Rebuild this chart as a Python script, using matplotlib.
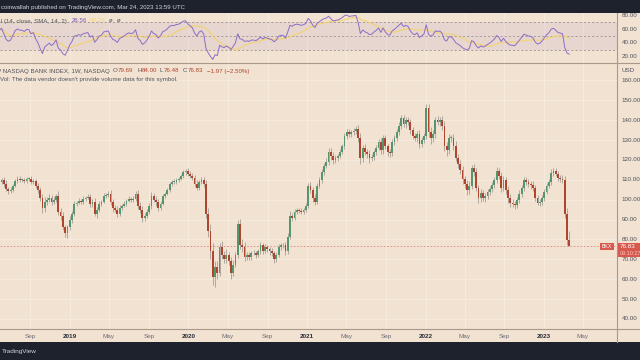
import matplotlib
matplotlib.use('Agg')
import matplotlib.pyplot as plt
import matplotlib.dates as mdates
from matplotlib.lines import Line2D
from matplotlib.patches import Rectangle
import numpy as np
import pandas as pd

# weekly closes of BKX (first bar = week of 2018-05-28)
close_2018 = [109, 110, 108, 105.5, 104.5, 105, 107, 109.5, 110.5, 110,
              110, 109.5, 110.5, 110.5, 109, 109.5, 107, 105, 101, 96,
              99, 100, 101, 99, 100, 102, 94, 92, 86, 83,
              86, 90]
close_2019 = [93, 98, 98.5, 99.5, 99, 100.5, 101, 101.5, 98, 99,
              93, 95, 98, 99, 102, 102.5, 103, 99, 96, 95,
              93, 96, 97, 98, 99.5, 100.5, 100, 100.5, 103, 97,
              95, 91, 92, 94, 97, 102, 100, 99, 96, 98,
              102, 103, 105, 108, 109, 109, 110, 110.5, 112, 114,
              114.5, 113]
close_2020 = [112, 111, 108, 106, 109, 110, 108, 93, 84, 74,
              61, 66, 63, 76, 72, 70, 72, 69, 63, 67,
              72, 88, 77, 76, 71, 72, 71, 73, 73, 72,
              74, 77, 74, 76, 75, 74, 73, 70, 72, 76,
              77, 77, 74, 81, 92, 91, 94, 95, 94.5, 94,
              95, 97]
close_2021 = [107, 105, 101, 99, 107, 110, 114, 117, 119, 124,
              122, 120, 121, 122, 124, 127, 132, 134, 133, 134,
              134.5, 135.5, 131, 121, 126, 124, 123, 121, 121.5, 124,
              126, 129, 125, 131, 127, 124, 123.5, 129, 131, 134,
              137, 141, 138, 140, 139, 135, 132, 131, 133, 128,
              130, 132]
close_2022 = [146, 134, 131, 133, 140, 139, 140, 137, 127, 125,
              131, 131, 127, 121, 118, 115, 110.5, 108, 105, 107,
              116, 114, 106, 101, 103.5, 101, 102, 104, 105.5, 107.5,
              110, 114.5, 112, 106, 110, 105, 101, 98.5, 98, 97.5,
              100, 103, 106, 110, 109, 108, 107.5, 106, 101, 98.5,
              99, 101]
close_2023 = [104, 107, 109, 113.5, 114.5, 113, 111, 110.5, 110, 93,
              79.69, 76.83]

# wick lengths above / below the candle body
wick_hi_2018 = [1.5, 1.0, 1.2, 1.8, 1.0, 1.2, 0.8, 1.0, 1.2, 1.5,
                0.8, 1.0, 0.9, 1.1, 1.3, 0.8, 1.0, 1.2, 1.5, 2.0,
                2.2, 1.5, 1.8, 1.6, 1.2, 1.0, 2.5, 1.8, 2.0, 1.5,
                1.2, 1.6]
wick_lo_2018 = [1.0, 1.2, 1.5, 1.0, 1.4, 0.9, 1.1, 0.8, 1.0, 1.2,
                1.3, 0.9, 1.0, 1.2, 1.0, 1.1, 1.3, 1.5, 1.8, 2.5,
                2.0, 1.6, 1.2, 1.5, 1.4, 1.0, 1.8, 2.0, 1.5, 2.0,
                2.5, 1.5]
wick_hi_2019 = [1.5, 1.2, 1.0, 1.3, 1.0, 1.2, 0.9, 1.4, 1.6, 1.2,
                2.0, 1.5, 1.1, 1.0, 1.3, 0.8, 1.2, 1.8, 1.5, 1.2,
                1.6, 1.4, 1.0, 1.2, 0.9, 1.1, 1.0, 1.3, 1.5, 2.0,
                1.6, 1.8, 1.4, 1.2, 1.5, 1.8, 1.2, 1.6, 1.4, 1.2,
                1.0, 1.1, 0.9, 1.0, 0.8, 1.2, 1.0, 0.9, 1.1, 1.0,
                0.8, 1.3]
wick_lo_2019 = [1.8, 1.0, 1.2, 0.9, 1.3, 1.0, 1.1, 0.8, 1.5, 1.8,
                1.4, 2.2, 1.2, 1.0, 0.8, 1.1, 1.0, 1.5, 2.0, 1.4,
                1.8, 1.2, 1.0, 0.9, 1.1, 0.8, 1.2, 1.0, 1.3, 1.8,
                1.5, 2.0, 1.6, 1.4, 1.2, 1.5, 1.3, 2.2, 1.8, 1.0,
                0.9, 1.2, 0.8, 1.0, 1.1, 0.9, 1.2, 1.0, 0.8, 1.1,
                1.5, 1.2]
wick_hi_2020 = [1.2, 1.5, 1.3, 1.8, 1.0, 1.2, 1.5, 2.0, 3.0, 4.0,
                4.0, 3.0, 3.0, 2.0, 3.0, 2.0, 3.0, 1.5, 2.0, 2.5,
                1.5, 2.0, 2.5, 3.0, 2.5, 1.5, 1.5, 1.2, 1.5, 1.0,
                1.4, 1.8, 1.2, 1.5, 1.3, 1.0, 1.6, 1.2, 1.5, 1.8,
                1.0, 1.4, 1.5, 2.0, 2.5, 1.2, 1.5, 1.0, 0.8, 1.2,
                1.0, 1.4]
wick_lo_2020 = [1.0, 1.2, 1.5, 1.3, 1.1, 0.9, 1.4, 2.0, 3.0, 4.0,
                4.0, 5.0, 3.0, 1.5, 2.0, 2.0, 2.0, 2.0, 3.0, 1.5,
                1.0, 1.5, 2.0, 2.5, 2.0, 1.5, 1.2, 1.5, 1.0, 1.3,
                1.1, 1.4, 1.5, 1.0, 1.2, 1.6, 1.3, 2.0, 1.2, 1.0,
                1.4, 1.5, 1.8, 1.2, 1.0, 1.5, 1.2, 1.4, 1.0, 1.1,
                1.3, 1.0]
wick_hi_2021 = [1.5, 2.0, 1.5, 1.8, 1.5, 1.2, 1.4, 1.6, 1.8, 2.0,
                2.2, 1.8, 1.5, 1.2, 1.4, 1.0, 1.5, 1.8, 1.6, 1.2,
                1.4, 1.5, 2.0, 2.5, 1.5, 1.8, 1.6, 2.0, 1.5, 1.2,
                1.4, 1.6, 2.0, 1.8, 1.5, 1.2, 1.4, 1.6, 1.5, 1.8,
                2.0, 1.5, 1.8, 1.6, 1.4, 1.5, 1.8, 1.5, 1.6, 2.0,
                1.5, 1.4]
wick_lo_2021 = [1.2, 1.5, 2.0, 1.8, 1.2, 1.0, 1.4, 1.5, 1.2, 1.6,
                1.8, 2.0, 1.5, 1.4, 1.2, 1.0, 1.3, 1.5, 1.4, 1.2,
                1.6, 1.5, 1.8, 3.0, 2.0, 1.6, 1.8, 2.5, 1.5, 1.4,
                1.6, 1.2, 1.8, 2.0, 1.5, 2.2, 1.8, 1.6, 1.4, 1.5,
                1.2, 1.6, 1.5, 1.8, 1.4, 2.0, 1.6, 1.5, 2.2, 1.8,
                1.6, 1.4]
wick_hi_2022 = [2.0, 2.0, 2.5, 2.0, 1.5, 2.2, 1.8, 2.0, 2.5, 2.0,
                2.2, 1.8, 2.0, 2.5, 2.0, 1.8, 2.0, 1.5, 1.8, 2.5,
                1.5, 1.8, 2.0, 1.6, 1.8, 1.5, 1.4, 1.2, 1.6, 1.5,
                1.4, 1.8, 1.6, 2.0, 1.8, 1.5, 2.0, 1.8, 1.6, 1.4,
                1.5, 1.8, 1.6, 1.4, 1.2, 1.5, 1.6, 1.8, 1.4, 1.2,
                1.5, 1.6]
wick_lo_2022 = [1.5, 2.5, 3.0, 2.0, 1.8, 1.5, 2.0, 1.8, 2.5, 3.0,
                2.0, 1.8, 2.0, 1.5, 2.0, 2.2, 2.5, 2.0, 2.5, 2.0,
                1.8, 2.0, 1.5, 2.5, 2.0, 1.8, 2.0, 1.6, 1.5, 1.8,
                1.4, 1.6, 1.5, 2.0, 1.8, 2.0, 2.5, 2.0, 1.8, 2.2,
                1.6, 1.5, 1.8, 1.4, 1.6, 1.8, 2.0, 1.5, 1.6, 1.4,
                1.8, 1.5]
wick_hi_2023 = [1.5, 1.2, 1.6, 1.8, 1.5, 1.4, 1.2, 1.5, 1.8, 2.0,
                3.0, 4.31]
wick_lo_2023 = [1.5, 1.2, 1.0, 1.4, 1.6, 1.2, 1.5, 1.4, 1.5, 2.0,
                2.5, 0.35]

first_open = 108.5
first_week = '2018-05-28'

x_ticks = ['2018-09-01', '2019-01-01', '2019-05-01', '2019-09-01', '2020-01-01',
           '2020-05-01', '2020-09-01', '2021-01-01', '2021-05-01', '2021-09-01',
           '2022-01-01', '2022-05-01', '2022-09-01', '2023-01-01', '2023-05-01']
x_labels = ['Sep', '2019', 'May', 'Sep', '2020', 'May', 'Sep', '2021', 'May', 'Sep',
            '2022', 'May', 'Sep', '2023', 'May']
price_ticks = [40, 50, 60, 70, 80, 90, 100, 110, 120, 130, 140, 150, 160]
rsi_ticks = [20, 40, 60, 80]
last_price = 76.83

# ---- build OHLC
close = np.array(close_2018 + close_2019 + close_2020 + close_2021 + close_2022 + close_2023)
wick_hi = np.array(wick_hi_2018 + wick_hi_2019 + wick_hi_2020 + wick_hi_2021 + wick_hi_2022 + wick_hi_2023)
wick_lo = np.array(wick_lo_2018 + wick_lo_2019 + wick_lo_2020 + wick_lo_2021 + wick_lo_2022 + wick_lo_2023)
opens = np.concatenate([[first_open], close[:-1]])
dates = pd.date_range(first_week, periods=len(close), freq='7D')
xd = mdates.date2num(dates.to_pydatetime())
highs = np.maximum(opens, close) + wick_hi
lows = np.minimum(opens, close) - wick_lo

# RSI 14 (wilder) + SMA 14, seeded with the mean move of the first 14 weeks
n = 14
delta = np.diff(np.concatenate([[first_open], close]))
gain = np.clip(delta, 0, None)
loss = np.clip(-delta, 0, None)
avg_g = gain[:n].mean()
avg_l = loss[:n].mean()
rsi = []
for g, l in zip(gain, loss):
    avg_g = (avg_g * (n - 1) + g) / n
    avg_l = (avg_l * (n - 1) + l) / n
    rsi.append(100 - 100 / (1 + avg_g / avg_l))
rsi = pd.Series(rsi)
rsi_ma = rsi.rolling(n, min_periods=1).mean()

# ---- colors
bg = '#f2e2d1'
dark = '#1e222d'
green = '#55956f'
red = '#b0452f'
wick_col = '#a59f96'
txt = '#50535e'
sep = '#a8998b'
W, H = 640, 360

def fx(px):
    return px / W

def fy(py):
    return 1 - py / H

fig = plt.figure(figsize=(6.4, 3.6), dpi=100)
fig.patch.set_facecolor(bg)
plt.rcParams['font.family'] = ['Liberation Sans', 'DejaVu Sans']

ax_rsi = fig.add_axes([0, fy(63), fx(617), (63 - 13) / H])
ax = fig.add_axes([0, fy(329), fx(617), (329 - 63) / H])

x_left = mdates.date2num(pd.Timestamp('2019-01-01')) - 215.8
x_right = mdates.date2num(pd.Timestamp('2023-01-01')) + 225
xt = mdates.date2num(pd.to_datetime(x_ticks).to_pydatetime())

for a in (ax, ax_rsi):
    a.set_facecolor(bg)
    a.set_xlim(x_left, x_right)
    for sp in a.spines.values():
        sp.set_visible(False)
    a.set_xticks([])
    a.set_yticks([])
    for t in xt:
        a.axvline(t, color='#f6ebdf', lw=0.7, zorder=0)

# ---- price panel
ax.set_ylim(34.9, 168.8)
for v in price_ticks:
    ax.axhline(v, color='#f6ebdf', lw=0.7, zorder=0)

up_mask = close >= opens
body_lo = np.minimum(opens, close)
body_h = np.maximum(np.abs(close - opens), 0.3)
ax.vlines(xd, lows, highs, color=wick_col, lw=0.6, zorder=2)
ax.bar(xd[up_mask], body_h[up_mask], bottom=body_lo[up_mask], width=5.5,
       color=green, linewidth=0, zorder=3)
ax.bar(xd[~up_mask], body_h[~up_mask], bottom=body_lo[~up_mask], width=5.5,
       color=red, linewidth=0, zorder=3)
ax.axhline(last_price, color='#e08a80', lw=0.6, ls=(0, (2, 2)), zorder=1)

for v in price_ticks:
    ax.text(1.008, v, f'{v:.2f}', transform=ax.get_yaxis_transform(),
            ha='left', va='center', fontsize=4.5, color=txt)
for t, lab in zip(xt, x_labels):
    bold = lab.isdigit()
    ax.text(t, -0.027, lab, transform=ax.get_xaxis_transform(), ha='center', va='center',
            fontsize=4.6, color='#2a2e39' if bold else '#6b6e78',
            fontweight='bold' if bold else 'normal')

# ---- rsi panel
ax_rsi.set_ylim(11.4, 82.9)
ax_rsi.axhspan(30, 70, color='#7e57c2', alpha=0.09, lw=0, zorder=0)
for v in (30, 50, 70):
    ax_rsi.axhline(v, color='#8a8680', lw=0.5, ls=(0, (3, 3)), zorder=1)
ax_rsi.plot(xd, rsi_ma, color='#f3d36c', lw=1.0, alpha=0.8, zorder=2)
ax_rsi.plot(xd, rsi, color='#8c6dc6', lw=0.7, zorder=3)
for v in rsi_ticks:
    ax_rsi.text(1.008, v, f'{v:.2f}', transform=ax_rsi.get_yaxis_transform(),
                ha='left', va='center', fontsize=4.5, color=txt)

# ---- separators and dark bars
fig.add_artist(Rectangle((0, fy(13)), 1, 13 / H, transform=fig.transFigure, color=dark, lw=0))
fig.add_artist(Rectangle((0, 0), 1, (H - 342) / H, transform=fig.transFigure, color=dark, lw=0))
fig.add_artist(Line2D([0, 1], [fy(63), fy(63)], transform=fig.transFigure, color=sep, lw=0.8))
fig.add_artist(Line2D([0, 1], [fy(329), fy(329)], transform=fig.transFigure, color=sep, lw=0.8))
fig.add_artist(Line2D([fx(617), fx(617)], [fy(13), fy(342)], transform=fig.transFigure, color=sep, lw=0.8))

# price tag on the axis
fig.add_artist(Rectangle((fx(617), fy(257)), 1, 14 / H, transform=fig.transFigure, color='#d9574b', lw=0))
fig.text(fx(620), fy(247), f'{last_price:.2f}', color='white', fontsize=4.5, va='center')
fig.text(fx(620), fy(253.5), '09:10:27', color='#f6c8c2', fontsize=4.0, va='center')
fig.add_artist(Rectangle((fx(600), fy(249.5)), fx(14), 7 / H, transform=fig.transFigure, color='#d9574b', lw=0))
fig.text(fx(607), fy(246), 'BKX', color='white', fontsize=3.8, ha='center', va='center')

# ---- texts
fig.text(fx(185), fy(7), 'coinwallah published on TradingView.com, Mar 24, 2023 13:59 UTC',
         color='#d1d4dc', fontsize=4.4, ha='right', va='center')
fig.text(fx(2), fy(351.5), 'TradingView', color='#d1d4dc', fontsize=4.6, va='center')
fig.text(fx(622), fy(70), 'USD', color=txt, fontsize=4.5, va='center')

fig.text(fx(67), fy(21), 'RSI (14, close, SMA, 14, 2)', color=txt, fontsize=4.4, ha='right', va='center')
fig.text(fx(72), fy(21), '26.56', color='#7e57c2', fontsize=4.4, va='center')
fig.text(fx(90), fy(21), f'{rsi_ma.iloc[-1]:.2f}', color='#f0cf5e', fontsize=4.4, va='center', alpha=0.7)
fig.text(fx(109), fy(21), 'ø', color=txt, fontsize=4.4, va='center')
fig.text(fx(117), fy(21), 'ø', color=txt, fontsize=4.4, va='center')

fig.text(fx(110), fy(71), 'KBW NASDAQ BANK INDEX, 1W, NASDAQ', color=txt, fontsize=4.4, ha='right', va='center')
legend_parts = [(113, 'O', txt), (117.5, '79.69', red), (137, 'H', txt), (141.5, '84.00', red),
                (160, 'L', txt), (163.5, '76.48', red), (183, 'C', txt), (187.5, '76.83', red),
                (207, '\u22121.97 (\u22122.50%)', red)]
for px, lab, col in legend_parts:
    fig.text(fx(px), fy(71), lab, color=col, fontsize=4.4, va='center')
fig.text(fx(178), fy(79.5), "Vol: The data vendor doesn't provide volume data for this symbol.",
         color=txt, fontsize=4.4, ha='right', va='center')

fig.savefig('out.png', dpi=100, facecolor=bg)
